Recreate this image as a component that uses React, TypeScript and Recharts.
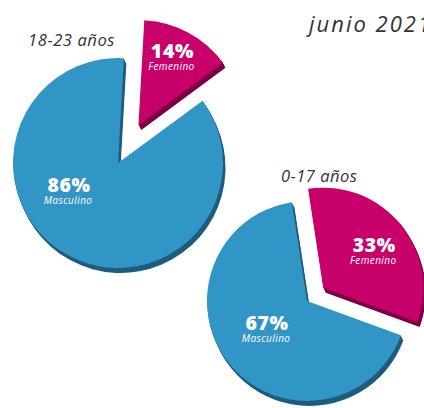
import React from 'react';
import { PieChart, Pie, Cell } from 'recharts';

// ---- data ----
const genders = ['Femenino', 'Masculino'];
const values1823 = [14, 86];
const values017 = [33, 67];
const groupTitles = ['18-23 años', '0-17 años'];
const dateTitle = 'junio 2021';

// ---- styles ----
const W = 424;
const H = 408;
const FONT = '"Open Sans", sans-serif';
const COLORS = ['#c8006a', '#3195c6'];
const DARK = ['#7b0042', '#1f5c7c'];
const RIM_STEPS = 5;

type Group = {
  values: number[];
  cx: number;
  cy: number;
  r: number;
  startCw: number; // clockwise degrees from 12 o'clock where first slice starts
  explode: number;
  labelOffsets: { dx: number; dy: number }[]; // big text baseline relative to slice center
};

const groups: Group[] = [
  {
    values: values1823,
    cx: 118,
    cy: 163,
    r: 105,
    startCw: 3.2,
    explode: 43,
    labelOffsets: [
      { dx: 34, dy: -67 },
      { dx: -49, dy: 29 },
    ],
  },
  {
    values: values017,
    cx: 307,
    cy: 301,
    r: 100,
    startCw: -8.7,
    explode: 21,
    labelOffsets: [
      { dx: 51, dy: -36 },
      { dx: -40, dy: 29 },
    ],
  },
];

function makeLabel(g: Group, slice: number, center: { x: number; y: number }) {
  return (props: any) => {
    if (props.index !== slice) return null;
    const off = g.labelOffsets[slice];
    const x = center.x + off.dx;
    const y = center.y + off.dy;
    return (
      <g>
        <text
          x={x}
          y={y}
          textAnchor="middle"
          fill="#ffffff"
          fontFamily={FONT}
          fontWeight={800}
          fontSize={19.5}
          letterSpacing={0.6}
        >
          {`${props.value}%`}
        </text>
        <text
          x={x - 1}
          y={y + 12}
          textAnchor="middle"
          fill="#ffffff"
          fontFamily={FONT}
          fontStyle="italic"
          fontSize={10}
          letterSpacing={0.4}
        >
          {props.name}
        </text>
      </g>
    );
  };
}

export default function App() {
  const pies: React.ReactNode[] = [];
  groups.forEach((g, gi) => {
    const data = genders.map((name, i) => ({ name, value: g.values[i] }));
    const total = g.values.reduce((a, b) => a + b, 0);
    const startAngle = 90 - g.startCw;
    const endAngle = startAngle - 360;
    const femMid = startAngle - (360 * g.values[0]) / total / 2;
    const rad = (femMid * Math.PI) / 180;
    const centers = [
      { x: g.cx + g.explode * Math.cos(rad), y: g.cy - g.explode * Math.sin(rad) },
      { x: g.cx, y: g.cy },
    ];
    // draw masculino first, femenino (exploded) after
    [1, 0].forEach((slice) => {
      const c = centers[slice];
      for (let k = RIM_STEPS; k >= 1; k--) {
        pies.push(
          <Pie
            key={`rim-${gi}-${slice}-${k}`}
            data={data}
            dataKey="value"
            nameKey="name"
            cx={c.x + k * 0.5}
            cy={c.y + k}
            outerRadius={g.r}
            innerRadius={0}
            startAngle={startAngle}
            endAngle={endAngle}
            stroke="none"
            isAnimationActive={false}
            label={false}
            labelLine={false}
          >
            {data.map((d, i) => (
              <Cell key={d.name} fill={i === slice ? DARK[i] : 'none'} stroke="none" />
            ))}
          </Pie>
        );
      }
      pies.push(
        <Pie
          key={`main-${gi}-${slice}`}
          data={data}
          dataKey="value"
          nameKey="name"
          cx={c.x}
          cy={c.y}
          outerRadius={g.r}
          innerRadius={0}
          startAngle={startAngle}
          endAngle={endAngle}
          stroke="none"
          isAnimationActive={false}
          labelLine={false}
          label={makeLabel(g, slice, c)}
        >
          {data.map((d, i) => (
            <Cell key={d.name} fill={i === slice ? COLORS[i] : 'none'} stroke="none" />
          ))}
        </Pie>
      );
    });
  });

  return (
    <div style={{ position: 'absolute', left: 0, top: 0, width: W, height: H, overflow: 'hidden', background: '#ffffff' }}>
      <PieChart width={W} height={H} margin={{ top: 0, right: 0, bottom: 0, left: 0 }}>
        {pies}
      </PieChart>
      <svg width={W} height={H} style={{ position: 'absolute', left: 0, top: 0, pointerEvents: 'none' }}>
        <text x={309} y={32} fill="#333333" fontFamily={FONT} fontStyle="italic" fontSize={22} letterSpacing={2}>
          {dateTitle}
        </text>
        <text x={28} y={46} fill="#333333" fontFamily={FONT} fontStyle="italic" fontSize={16.5} letterSpacing={0.6}>
          {groupTitles[0]}
        </text>
        <text x={281} y={182} fill="#333333" fontFamily={FONT} fontStyle="italic" fontSize={16.5} letterSpacing={0.5}>
          {groupTitles[1]}
        </text>
      </svg>
    </div>
  );
}
